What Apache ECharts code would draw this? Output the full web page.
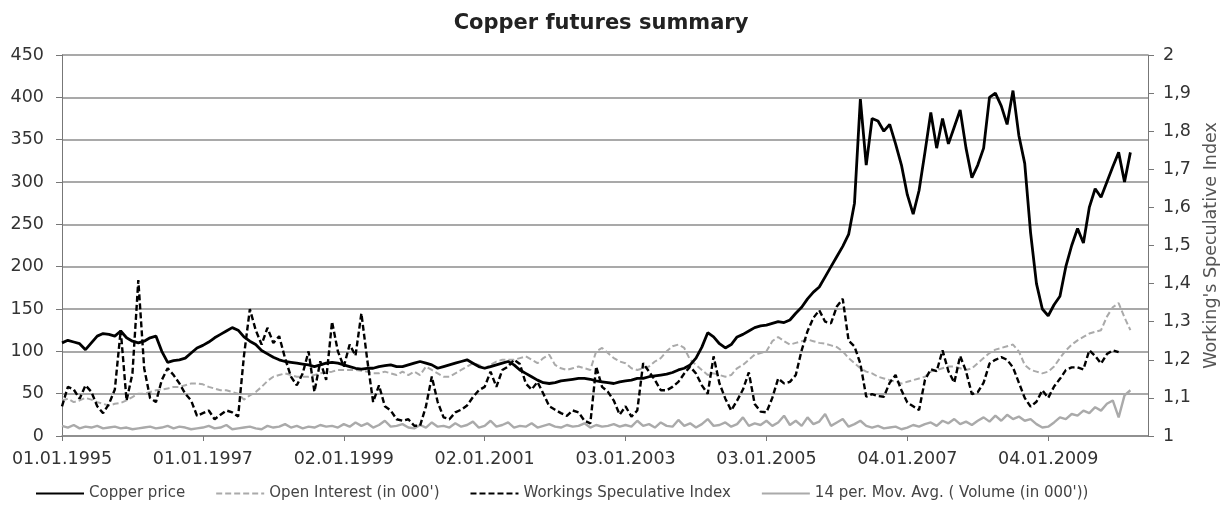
<!DOCTYPE html>
<html>
<head>
<meta charset="utf-8">
<script src="https://cdn.jsdelivr.net/npm/echarts/dist/echarts.min.js"></script>
<style>
  html, body { margin: 0; padding: 0; background: #fff; }
  #chart { width: 1228px; height: 510px; }
</style>
</head>
<body>
<div id="chart"></div>
<script>
// monthly samples, Jan 1995 .. Mar 2010 (axis runs to Jun 2010)
const tickLabels = ['01.01.1995', '01.01.1997', '02.01.1999', '02.01.2001',
                    '03.01.2003', '03.01.2005', '04.01.2007', '04.01.2009'];

const copperPrice = [
  110,113,111,109,102,110,118,121,120,118,124,116,
  112,110,112,116,118,100,87,89,90,92,98,104,
  107,111,116,120,124,128,125,117,112,108,101,97,
  93,90,88,87,86,85,84,82,84,86,87,86,
  84,82,80,79,80,80,82,83,84,82,82,84,
  86,88,86,84,80,82,84,86,88,90,86,82,
  80,82,84,86,88,84,78,74,70,66,63,62,
  63,65,66,67,68,68,67,65,64,63,62,64,
  65,66,68,68,70,71,72,73,75,78,80,84,
  92,105,122,117,109,104,108,117,120,124,128,130,
  131,133,135,134,137,145,152,162,170,176,188,200,
  212,224,238,275,398,320,375,372,360,368,345,320,
  285,262,290,335,382,340,375,345,365,385,340,305,
  320,340,400,405,390,368,408,355,322,240,180,150,
  142,155,165,200,225,245,228,270,292,282,300,318,
  335,300,335
];

const openInterest = [
  42,44,40,42,45,43,40,38,36,38,39,42,
  46,50,50,52,54,55,56,58,58,60,62,62,
  61,58,56,54,54,52,50,43,48,52,58,65,
  70,72,74,72,70,70,70,72,74,75,76,78,
  78,78,78,77,76,74,74,76,74,72,76,72,
  76,72,82,78,74,70,70,74,78,82,86,84,
  80,84,88,90,90,90,92,94,90,86,92,96,
  84,80,78,80,82,80,78,100,104,98,92,88,
  86,80,78,80,82,88,92,100,106,108,104,90,
  84,78,72,74,72,70,72,80,84,90,96,98,
  100,112,117,112,108,110,112,114,112,110,109,107,
  105,100,92,86,80,76,74,70,68,66,64,62,
  64,66,68,70,76,78,80,82,82,80,78,80,
  86,92,98,102,104,106,108,100,84,78,76,74,
  76,82,92,101,108,113,117,121,123,125,141,152,
  157,140,125
];

const workingsIndex = [
  1.078,1.129,1.122,1.098,1.133,1.116,1.078,1.06,1.084,1.122,1.278,1.093,
  1.164,1.409,1.178,1.1,1.089,1.147,1.178,1.16,1.138,1.111,1.093,1.053,
  1.06,1.067,1.044,1.056,1.067,1.062,1.051,1.211,1.333,1.278,1.24,1.284,
  1.244,1.262,1.204,1.156,1.133,1.164,1.222,1.116,1.196,1.147,1.3,1.222,
  1.182,1.24,1.211,1.322,1.2,1.089,1.133,1.078,1.067,1.044,1.04,1.044,
  1.027,1.027,1.078,1.156,1.089,1.049,1.044,1.062,1.069,1.08,1.102,1.12,
  1.129,1.169,1.129,1.173,1.182,1.2,1.189,1.138,1.122,1.142,1.111,1.078,
  1.069,1.06,1.053,1.067,1.062,1.04,1.033,1.182,1.129,1.116,1.093,1.056,
  1.078,1.051,1.067,1.191,1.169,1.147,1.12,1.12,1.129,1.142,1.164,1.182,
  1.164,1.133,1.111,1.209,1.138,1.098,1.067,1.093,1.122,1.167,1.084,1.064,
  1.062,1.1,1.151,1.138,1.142,1.16,1.225,1.275,1.31,1.33,1.30,1.296,
  1.34,1.36,1.25,1.235,1.19,1.103,1.11,1.105,1.103,1.14,1.16,1.12,
  1.088,1.078,1.068,1.147,1.175,1.17,1.225,1.17,1.14,1.21,1.17,1.11,
  1.115,1.14,1.19,1.2,1.207,1.2,1.18,1.14,1.10,1.077,1.09,1.12,
  1.10,1.13,1.15,1.173,1.18,1.18,1.175,1.225,1.21,1.19,1.215,1.225,
  1.22
];

const volumeAvg = [
  12,10,13,9,11,10,12,9,10,11,9,10,8,9,10,11,9,10,12,9,11,10,8,9,
  10,12,9,10,13,8,9,10,11,9,8,12,10,11,14,10,12,9,11,10,13,11,12,10,
  14,11,16,12,15,10,13,18,11,12,14,10,9,13,10,16,11,12,10,15,11,13,17,10,
  12,18,11,13,16,10,12,11,15,10,12,14,11,10,13,11,12,15,10,13,11,12,14,11,
  13,11,18,12,14,10,16,12,11,19,12,15,10,14,20,12,13,16,11,14,22,12,15,13,
  18,12,16,24,13,18,12,22,14,17,26,12,16,20,11,14,18,12,10,12,9,10,11,8,
  10,13,11,14,16,12,18,15,20,14,17,13,
  18,22,17,24,18,25,20,23,18,20,14,10,
  11,16,22,20,26,24,30,27,34,30,38,42,
  22,48,54
];

// category axis: one slot per month, tick label every 24 months
const categories = [];
for (let i = 0; i < 186; i++) {
    const y = 1995 + Math.floor(i / 12);
    const m = (i % 12) + 1;
    if (i % 24 === 0) categories.push(tickLabels[i / 24]);
    else categories.push('01.' + (m < 10 ? '0' + m : m) + '.' + y);
}

const font = 'DejaVu Sans';
const chart = echarts.init(document.getElementById('chart'));

chart.setOption({
    animation: false,
    backgroundColor: '#fff',
    title: {
        text: 'Copper futures summary',
        left: 596,
        top: 8,
        textAlign: 'center',
        textStyle: { fontFamily: font, fontWeight: 'bold', fontSize: 21, color: '#222' }
    },
    legend: {
        left: 30,
        bottom: 4,
        itemWidth: 48,
        itemHeight: 10,
        itemGap: 30,
        itemStyle: { opacity: 0 },
        textStyle: { fontFamily: font, fontSize: 15, color: '#444' },
        data: ['Copper price', "Open Interest (in 000')", 'Workings Speculative Index',
               "14 per. Mov. Avg. ( Volume (in 000'))"]
    },
    grid: { left: 62, right: 80, top: 55, bottom: 74 },
    xAxis: {
        type: 'category',
        data: categories,
        boundaryGap: false,
        axisLine: { lineStyle: { color: '#888', width: 1.5 } },
        axisTick: { interval: 23, length: 5, lineStyle: { color: '#777' } },
        axisLabel: { interval: 23, margin: 14, fontFamily: font, fontSize: 17.5, color: '#333' },
        splitLine: { show: false }
    },
    yAxis: [
        {
            type: 'value',
            min: 0, max: 450, interval: 50,
            axisLine: { show: true, lineStyle: { color: '#777' } },
            axisTick: { show: true, length: 6, lineStyle: { color: '#777' } },
            axisLabel: { fontFamily: font, fontSize: 17.5, color: '#333', margin: 18 },
            splitLine: { lineStyle: { color: '#8c8c8c', width: 1.5 } }
        },
        {
            type: 'value',
            min: 1, max: 2, interval: 0.1,
            position: 'right',
            name: "Working's Speculative Index",
            nameLocation: 'middle',
            nameGap: 54,
            nameRotate: 90,
            nameTextStyle: { fontFamily: font, fontSize: 17.5, color: '#555' },
            axisLine: { show: true, lineStyle: { color: '#777' } },
            axisTick: { show: true, length: 6, lineStyle: { color: '#777' } },
            axisLabel: {
                fontFamily: font, fontSize: 17.5, color: '#333', margin: 15,
                formatter: v => String(Math.round(v * 10) / 10).replace('.', ',')
            },
            splitLine: { show: false }
        }
    ],
    series: [
        {
            name: 'Copper price',
            type: 'line',
            data: copperPrice,
            symbol: 'none',
            lineStyle: { color: '#000', width: 2.8 },
            itemStyle: { color: '#000' },
            z: 5
        },
        {
            name: "Open Interest (in 000')",
            type: 'line',
            data: openInterest,
            symbol: 'none',
            lineStyle: { color: '#aaa', width: 2, type: [6, 3] },
            itemStyle: { color: '#aaa' },
            z: 2
        },
        {
            name: 'Workings Speculative Index',
            type: 'line',
            yAxisIndex: 1,
            data: workingsIndex,
            symbol: 'none',
            lineStyle: { color: '#000', width: 2.4, type: [6, 3] },
            itemStyle: { color: '#000' },
            z: 4
        },
        {
            name: "14 per. Mov. Avg. ( Volume (in 000'))",
            type: 'line',
            data: volumeAvg,
            symbol: 'none',
            lineStyle: { color: '#aaa', width: 2.4 },
            itemStyle: { color: '#aaa' },
            z: 3
        }
    ]
});
</script>
</body>
</html>
